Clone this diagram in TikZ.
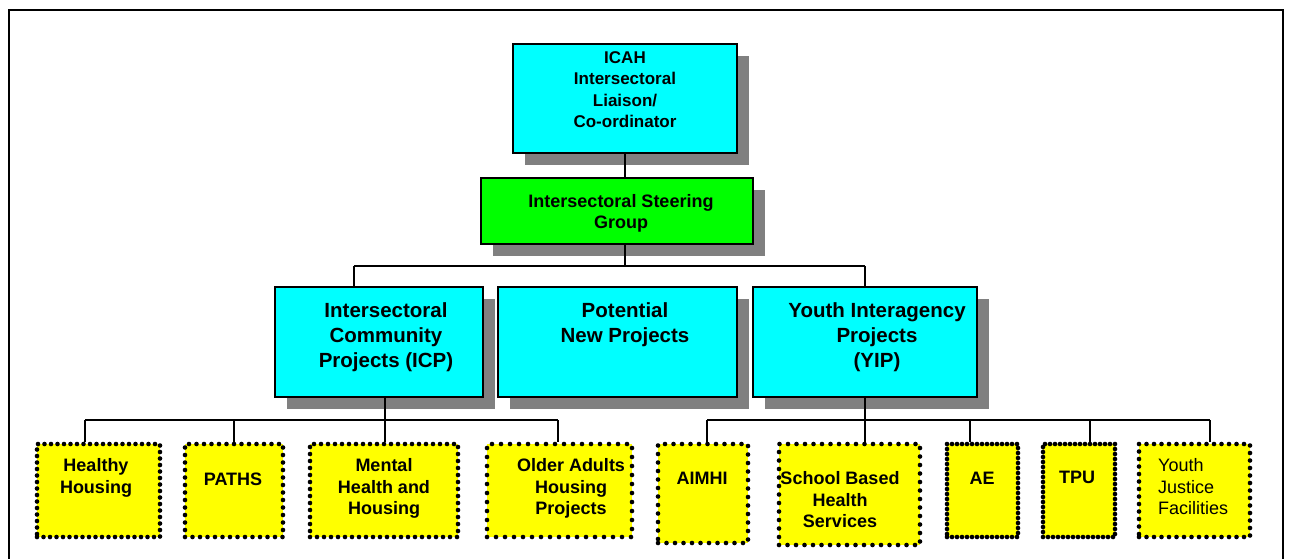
\documentclass[tikz,border=0pt]{standalone}
\usepackage{fontspec}
\setmainfont{Liberation Sans}
\usetikzlibrary{shadows}
\definecolor{boxcyan}{RGB}{0,255,255}
\definecolor{boxgreen}{RGB}{0,255,0}
\definecolor{boxyellow}{RGB}{255,255,0}
\definecolor{shadowgray}{RGB}{128,128,128}
\tikzset{
  solidbox/.style={draw=black, line width=2.3pt, fill=#1, inner sep=0pt,
    drop shadow={fill=shadowgray, opacity=1, shadow xshift=12pt, shadow yshift=-12pt}},
  dotbox/.style={draw=black, fill=boxyellow, line width=4.6pt, line cap=round,
    dash pattern=on 0pt off #1, inner sep=0pt},
  dotbox/.default=8pt,
  conn/.style={draw=black, line width=2.5pt},
  txtA/.style={inner sep=0pt, align=center, font=\fontsize{17}{21.5}\selectfont\bfseries},
  txtB/.style={inner sep=0pt, align=center, font=\fontsize{18}{20.5}\selectfont\bfseries},
  txtC/.style={inner sep=0pt, align=center, font=\fontsize{20.5}{25}\selectfont\bfseries},
  txtD/.style={inner sep=0pt, align=center, font=\fontsize{18}{21.5}\selectfont\bfseries},
  txtE/.style={inner sep=0pt, align=left, font=\fontsize{18}{21.5}\selectfont},
}
\begin{document}
\begin{tikzpicture}[x=1pt, y=-1pt]
\useasboundingbox (0,0) rectangle (1290,558);
\clip (0,0) rectangle (1290,558);
% outer frame
\draw[line width=2.2pt] (9,570) -- (9,10) -- (1283,10) -- (1283,570);

% top boxes
\node[solidbox=boxcyan, minimum width=224pt, minimum height=109pt] (icah) at (625,98.5) {};
\node[txtA, anchor=north] (icah-t) at (625,51) {ICAH\\Intersectoral\\Liaison/\\Co-ordinator};
\node[solidbox=boxgreen, minimum width=272pt, minimum height=66pt] (steer) at (617,211) {};
\node[txtB, anchor=north] (steer-t) at (621,194.5) {Intersectoral Steering\\Group};

% middle row
\node[solidbox=boxcyan, minimum width=208pt, minimum height=110pt] (icp) at (379,342) {};
\node[txtC, anchor=north] (icp-t) at (386,302.5) {Intersectoral\\Community\\Projects (ICP)};
\node[solidbox=boxcyan, minimum width=239pt, minimum height=110pt] (pot) at (617.5,342) {};
\node[txtC, anchor=north] (pot-t) at (625,302.5) {Potential\\New Projects};
\node[solidbox=boxcyan, minimum width=224pt, minimum height=110pt] (yip) at (865,342) {};
\node[txtC, anchor=north] (yip-t) at (877,302.5) {Youth Interagency\\Projects\\(YIP)};

% bottom row
\node[dotbox=6.5pt, minimum width=123pt, minimum height=93pt] (hh) at (98.5,490.5) {};
\node[txtD, anchor=north] (hh-t) at (96,458.5) {Healthy\\Housing};
\node[dotbox=7.5pt, minimum width=98pt, minimum height=93pt] (paths) at (234,490.5) {};
\node[txtD, anchor=north] (paths-t) at (233,472.5) {PATHS};
\node[dotbox=7pt, minimum width=148pt, minimum height=93pt] (mh) at (384,490.5) {};
\node[txtD, anchor=north] (mh-t) at (384,458.5) {Mental\\Health and\\Housing};
\node[dotbox=9pt, minimum width=145pt, minimum height=93pt] (oa) at (559.5,490.5) {};
\node[txtD, anchor=north] (oa-t) at (571,458.5) {Older Adults\\Housing\\Projects};
\node[dotbox=8.5pt, minimum width=90pt, minimum height=99pt] (aimhi) at (703,493.5) {};
\node[txtD, anchor=north] (aimhi-t) at (702,471.5) {AIMHI};
\node[dotbox=8.5pt, minimum width=141pt, minimum height=101pt] (sbhs) at (849.5,494.5) {};
\node[txtD, anchor=north] (sbhs-t) at (840,471.5) {School Based\\Health\\Services};
\node[dotbox=5pt, minimum width=71pt, minimum height=93pt] (ae) at (982.5,490.5) {};
\node[txtD, anchor=north] (ae-t) at (982,471.5) {AE};
\node[dotbox=5pt, minimum width=72pt, minimum height=93pt] (tpu) at (1079,490.5) {};
\node[txtD, anchor=north] (tpu-t) at (1077,470.5) {TPU};
\node[dotbox=7.5pt, minimum width=111pt, minimum height=93pt] (yjf) at (1194.5,490.5) {};
\node[txtE, anchor=north west] (yjf-t) at (1158,458.5) {Youth\\Justice\\Facilities};

% connectors
\coordinate (jA) at (625,266);
\coordinate (jL) at (354,266);
\coordinate (jR) at (865,266);
\draw[conn] (icah.south -| jA) -- (steer.north -| jA);
\draw[conn] (steer.south -| jA) -- (jA);
\draw[conn] (jL) -- (jR);
\draw[conn] (jL) -- (jL |- icp.north);
\draw[conn] (jR) -- (yip.north);

\coordinate (bL) at (385,420);
\coordinate (bL1) at (85,420);
\coordinate (bL2) at (234,420);
\coordinate (bL4) at (558,420);
\draw[conn] (icp.south -| bL) -- (bL);
\draw[conn] (bL1) -- (bL4);
\draw[conn] (bL1) -- (bL1 |- hh.north);
\draw[conn] (bL2) -- (bL2 |- paths.north);
\draw[conn] (bL) -- (bL |- mh.north);
\draw[conn] (bL4) -- (bL4 |- oa.north);

\coordinate (bR) at (865,420);
\coordinate (bR1) at (707,420);
\coordinate (bR3) at (970,420);
\coordinate (bR4) at (1090,420);
\coordinate (bR5) at (1210,420);
\draw[conn] (yip.south) -- (bR);
\draw[conn] (bR1) -- (bR5);
\draw[conn] (bR1) -- (bR1 |- aimhi.north);
\draw[conn] (bR) -- (bR |- sbhs.north);
\draw[conn] (bR3) -- (bR3 |- ae.north);
\draw[conn] (bR4) -- (bR4 |- tpu.north);
\draw[conn] (bR5) -- (bR5 |- yjf.north);
\end{tikzpicture}
\end{document}
